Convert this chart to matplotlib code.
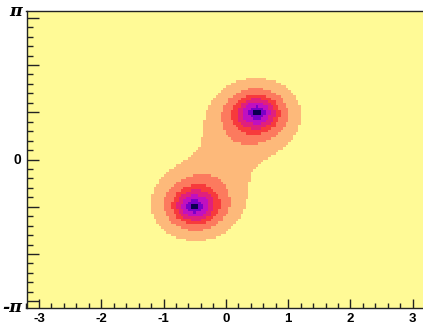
import numpy as np
import matplotlib
matplotlib.use("Agg")
import matplotlib.pyplot as plt
from matplotlib.colors import ListedColormap, BoundaryNorm
from matplotlib.ticker import MultipleLocator

# Two peaks in (x, phi): centres, amplitudes, decay length and phi stretch
peak_x = [0.5, -0.5]
peak_y = [1.0, -1.0]
peak_amp = [1.0, 1.0]
peak_len = [0.8, 0.8]
phi_stretch = 1.05

# Contour boundaries and band colours (low -> high)
levels = [0.0, 0.455, 0.585, 0.684, 0.753, 0.830, 0.915, 0.988, 3.0]
band_colors = ["#fffa96", "#fdb97a", "#fc7a5e", "#f73a3c",
               "#e0207c", "#c010c0", "#7a00c8", "#0a0050"]

# Axis labels
x_ticks = [-3, -2, -1, 0, 1, 2, 3]
y_tick_pos = [-np.pi, 0.0, np.pi]
y_tick_text = ["-π", "0", "π"]

# Binning of the map
nbins_x, nbins_y = 160, 120
x_lo, x_hi = -3.2, 3.2
y_lo, y_hi = -np.pi, np.pi

xe = np.linspace(x_lo, x_hi, nbins_x + 1)
ye = np.linspace(y_lo, y_hi, nbins_y + 1)
xc = 0.5 * (xe[:-1] + xe[1:])
yc = 0.5 * (ye[:-1] + ye[1:])
X, Y = np.meshgrid(xc, yc)
Z = np.zeros_like(X)
for cx, cy, a, lam in zip(peak_x, peak_y, peak_amp, peak_len):
    d = np.hypot(X - cx, (Y - cy) / phi_stretch)
    Z += a * np.exp(-d / lam)

W, H = 423, 324
fig = plt.figure(figsize=(W / 100, H / 100), dpi=100)
ax = fig.add_axes([26.5 / W, 1 - 308 / H, 398.7 / W, 297 / H])

cmap = ListedColormap(band_colors)
norm = BoundaryNorm(levels, cmap.N)
ax.pcolormesh(xe, ye, Z, cmap=cmap, norm=norm, shading="flat")

ax.set_xlim(x_lo, x_hi)
ax.set_ylim(y_lo, y_hi)

for s in ax.spines.values():
    s.set_linewidth(1.0)
    s.set_color("#222222")

ax.set_xticks(x_ticks)
ax.xaxis.set_minor_locator(MultipleLocator(0.2))
ax.set_yticks([-3, -2, -1, 0, 1, 2, 3])
ax.set_yticklabels([])
ax.yaxis.set_minor_locator(MultipleLocator(0.2))

ax.tick_params(axis="both", which="both", direction="in", color="#222222",
               top=False, right=False)
ax.tick_params(axis="x", which="major", length=6.5, width=1.0, pad=3.5)
ax.tick_params(axis="x", which="minor", length=3.6, width=1.0)
ax.tick_params(axis="y", which="major", length=8.6, width=1.0)
ax.tick_params(axis="y", which="minor", length=4.3, width=1.0)

ax.set_xticklabels([str(v) for v in x_ticks], fontsize=9.5,
                   fontweight="bold", family="Liberation Sans")

for pos, txt in zip(y_tick_pos, y_tick_text):
    yf = (pos - y_lo) / (y_hi - y_lo)
    if txt == "0":
        ax.text(-0.014, yf, txt, transform=ax.transAxes, ha="right",
                va="center", fontsize=10, fontweight="bold",
                family="Liberation Sans")
    else:
        ax.text(-0.010, yf, txt, transform=ax.transAxes, ha="right",
                va="center", fontsize=12.5, fontweight="bold", style="italic",
                family="DejaVu Serif")

fig.savefig("out.png", dpi=100)
